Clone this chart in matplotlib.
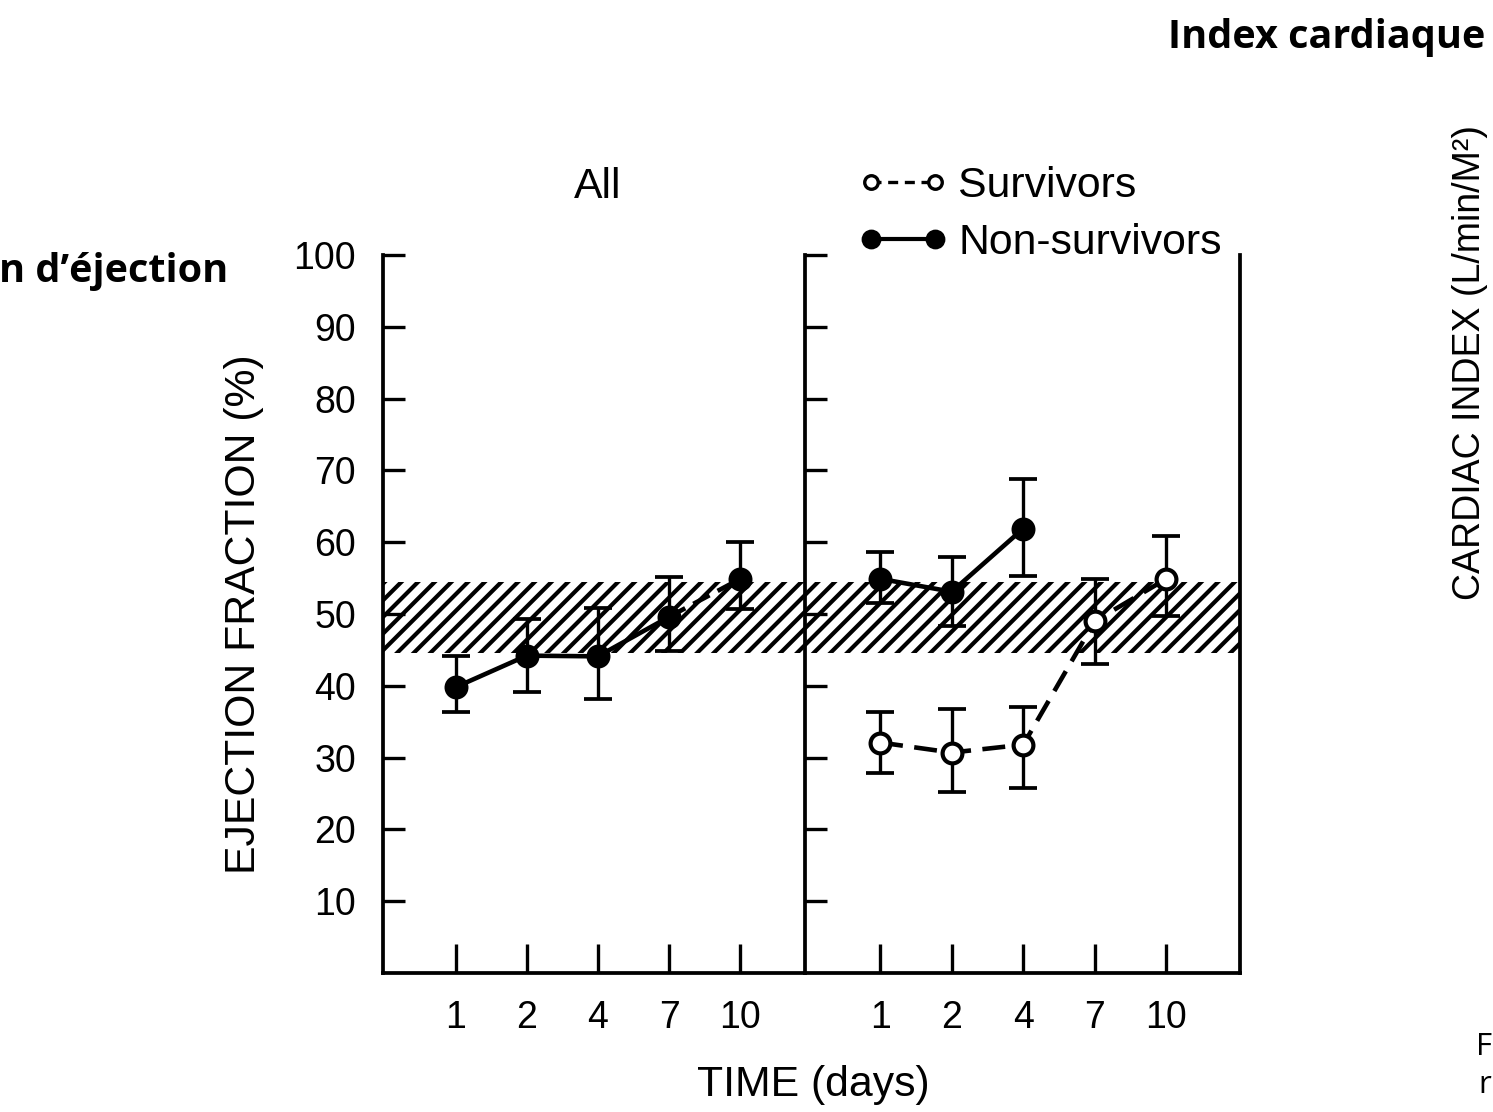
import numpy as np
import matplotlib.pyplot as plt
from matplotlib.lines import Line2D

plt.rcParams['font.family'] = ['Liberation Sans', 'DejaVu Sans']
plt.rcParams['hatch.linewidth'] = 2.0

# Jours de mesure (categories sur l'axe x)
days = ['1', '2', '4', '7', '10']

# Panneau gauche : tous les patients
all_mean = [39.8, 44.2, 44.1, 49.6, 54.9]
all_low = [36.3, 39.2, 38.1, 44.8, 50.7]
all_high = [44.2, 49.3, 50.8, 55.1, 60.0]

# Panneau droit : survivants / non-survivants
surv_mean = [32.1, 30.7, 31.8, 49.0, 54.9]
surv_low = [27.9, 25.2, 25.8, 43.0, 49.7]
surv_high = [36.3, 36.7, 37.0, 54.9, 60.8]

nonsurv_mean = [54.9, 53.1, 61.9]
nonsurv_low = [51.6, 48.3, 55.3]
nonsurv_high = [58.7, 58.0, 68.8]

# Zone normale (hachuree)
normal_band = (44.5, 54.5)

y_ticks = [10, 20, 30, 40, 50, 60, 70, 80, 90, 100]

fig = plt.figure(figsize=(1493 / 150, 1112 / 150), dpi=150)
ax1 = fig.add_axes([0.2565, 0.125, 0.2827, 0.6457])
ax2 = fig.add_axes([0.5392, 0.125, 0.2914, 0.6457])

x = np.arange(1, len(days) + 1)


def err(mean, low, high):
    mean = np.array(mean)
    return [mean - np.array(low), np.array(high) - mean]


eb_kw = dict(ecolor='black', elinewidth=1.6, capsize=6.5, capthick=1.8)

for ax in (ax1, ax2):
    ax.axhspan(*normal_band, facecolor='none', edgecolor='black', hatch='///', linewidth=0, zorder=1)
    ax.set_ylim(0, 100)
    ax.set_yticks(y_ticks)
    ax.set_xticks(x)
    ax.set_xticklabels(days)
    ax.spines['top'].set_visible(False)
    for s in ax.spines.values():
        s.set_linewidth(1.8)
    ax.tick_params(axis='x', direction='in', length=14, width=1.6, labelsize=18, pad=13)
    ax.tick_params(axis='y', direction='in', length=10.5, width=1.6, labelsize=18, pad=13)

ax1.set_xlim(-0.02, 5.91)
ax2.set_xlim(-0.05, 6.03)
ax1.spines['right'].set_visible(False)
ax2.tick_params(axis='y', labelleft=False)

# Panneau gauche
ax1.errorbar(x, all_mean, yerr=err(all_mean, all_low, all_high), fmt='none', zorder=2, **eb_kw)
ax1.plot(x[:4], all_mean[:4], '-', color='black', lw=2.2, zorder=3)
ax1.plot(x[3:], all_mean[3:], '--', color='black', lw=2.2, dashes=(4, 2), zorder=3)
ax1.plot(x, all_mean, 'o', color='black', ms=10.5, zorder=4)
ax1.text(3, 109.5, 'All', ha='center', va='center', fontsize=20.5, clip_on=False)
ax1.set_ylabel('EJECTION FRACTION (%)', fontsize=20.5, labelpad=14)

# Panneau droit
xn = x[:len(nonsurv_mean)]
ax2.errorbar(xn, nonsurv_mean, yerr=err(nonsurv_mean, nonsurv_low, nonsurv_high), fmt='none', zorder=2, **eb_kw)
ax2.errorbar(x, surv_mean, yerr=err(surv_mean, surv_low, surv_high), fmt='none', zorder=2, **eb_kw)
ax2.plot(xn, nonsurv_mean, '-o', color='black', lw=2.2, ms=10.5, zorder=4)
ax2.plot(x, surv_mean, 'o', color='black', mfc='white', mew=2, ms=9.5, ls='--', dashes=(5, 2.5), lw=2.2, zorder=4)

handles = [
    Line2D([0], [0], color='black', ls='--', dashes=(3, 2), lw=1.6, marker='o', mfc='white', mew=1.6, ms=6.5),
    Line2D([0], [0], color='black', ls='-', lw=2.0, marker='o', ms=8.5),
]
fig.legend(handles, ['Survivors', 'Non-survivors'], loc='center left', bbox_to_anchor=(0.5747, 0.8073),
           frameon=False, fontsize=20.5, numpoints=2, handlelength=2.1, handletextpad=0.25,
           labelspacing=0.39, borderpad=0, borderaxespad=0)

fig.text(0.5446, 1 - 1085 / 1112, 'TIME (days)', ha='center', va='center', fontsize=20.5)

# Textes de la diapositive autour de la figure
fig.text(1485 / 1493, 1 - 48 / 1112, 'Index cardiaque', ha='right', va='baseline',
         fontsize=19, fontweight='bold', family='Open Sans')
fig.text(228 / 1493, 1 - 282 / 1112, 'n d\u2019éjection', ha='right', va='baseline',
         fontsize=19, fontweight='bold', family='Open Sans')
fig.text(1470 / 1493, 1 - 362 / 1112, 'CARDIAC INDEX (L/min/M\u00b2)', rotation=90,
         ha='center', va='center', fontsize=18)
fig.text(1476 / 1493, 1 - 1055 / 1112, 'F', ha='left', va='baseline', fontsize=15, family='Open Sans')
fig.text(1478 / 1493, 1 - 1093 / 1112, 'r', ha='left', va='baseline', fontsize=15, family='Open Sans')

plt.savefig('out.png', dpi=150)
